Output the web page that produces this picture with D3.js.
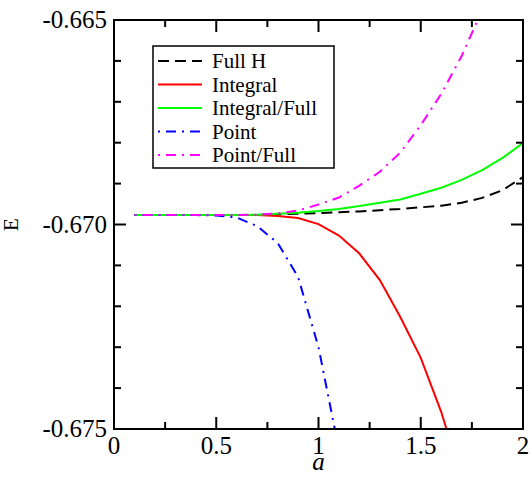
<!DOCTYPE html>
<html lang="en">
<head>
    <meta charset="UTF-8">
    <title>E vs a</title>
    <script src="https://d3js.org/d3.v7.min.js"></script>
    <style>
        body { margin: 0; background: #fff; }
    </style>
</head>
<body>
    <div id="chart"></div>
    <script>
        // values
        const aValues = [0.1, 0.2, 0.3, 0.4, 0.5, 0.6, 0.7, 0.8, 0.9, 1.0, 1.1, 1.2, 1.3, 1.4, 1.5, 1.6, 1.7, 1.8, 1.9, 2.0];
        const fullH = [-0.66977, -0.66977, -0.66977, -0.66977, -0.66977, -0.66977, -0.66977, -0.66975, -0.66974, -0.66972,
                       -0.66970, -0.66968, -0.66965, -0.66962, -0.66958, -0.66954, -0.66947, -0.66935, -0.66916, -0.66884];
        const integral = [-0.66977, -0.66977, -0.66977, -0.66977, -0.66977, -0.66977, -0.66977, -0.66979, -0.66984, -0.66999,
                          -0.67027, -0.67071, -0.67136, -0.67226, -0.67326, -0.67458, -0.67620, -0.67810, -0.68030, -0.68280];
        const integralFull = [-0.66977, -0.66977, -0.66977, -0.66977, -0.66977, -0.66977, -0.66976, -0.66974, -0.66971, -0.66967,
                              -0.66962, -0.66955, -0.66947, -0.66939, -0.66925, -0.66910, -0.66891, -0.66867, -0.66837, -0.66801];
        const point = [-0.66977, -0.66977, -0.66977, -0.66977, -0.66978, -0.66983, -0.67004, -0.67045, -0.67128, -0.67300,
                       -0.67551, -0.67900, -0.68350, -0.68900, -0.69550, -0.70300, -0.71150, -0.72100, -0.73150, -0.74300];
        const pointFull = [-0.66977, -0.66977, -0.66977, -0.66977, -0.66977, -0.66977, -0.66976, -0.66973, -0.66966, -0.66951,
                           -0.66934, -0.66905, -0.66871, -0.66824, -0.66757, -0.66681, -0.66588, -0.66476, -0.66340, -0.66180];

        const seriesNames = ["Full H", "Integral", "Integral/Full", "Point", "Point/Full"];
        const seriesColors = ["#000000", "#ff0000", "#00ff00", "#0000ff", "#ff00ff"];
        const seriesDash = ["11,6", null, null, "2,6,10,6", "2,6,10,6"];
        const seriesValues = [fullH, integral, integralFull, point, pointFull];

        const xMajor = [0, 0.5, 1, 1.5, 2];
        const xMinor = [0.25, 0.75, 1.25, 1.75];
        const yMajor = [-0.675, -0.670, -0.665];
        const yMinor = [-0.674, -0.673, -0.672, -0.671, -0.669, -0.668, -0.667, -0.666];

        const width = 530, height = 477;
        const margin = { left: 114, right: 7, top: 20, bottom: 48 };
        const innerW = width - margin.left - margin.right;
        const innerH = height - margin.top - margin.bottom;
        const serif = "'Liberation Serif', 'Times New Roman', Times, 'DejaVu Serif', serif";

        const svg = d3.select("#chart").append("svg")
            .attr("width", width)
            .attr("height", height)
            .style("font-family", serif);

        const x = d3.scaleLinear().domain([0, 2]).range([margin.left, margin.left + innerW]);
        const y = d3.scaleLinear().domain([-0.675, -0.665]).range([margin.top + innerH, margin.top]);

        svg.append("defs").append("clipPath").attr("id", "plotclip")
            .append("rect")
            .attr("x", margin.left).attr("y", margin.top)
            .attr("width", innerW).attr("height", innerH);

        // Curves
        const line = d3.line()
            .x(d => x(d[0]))
            .y(d => y(d[1]));

        const curves = svg.append("g").attr("clip-path", "url(#plotclip)");
        seriesValues.forEach((vals, i) => {
            curves.append("path")
                .datum(aValues.map((a, j) => [a, vals[j]]))
                .attr("fill", "none")
                .attr("stroke", seriesColors[i])
                .attr("stroke-width", 2)
                .attr("stroke-dasharray", seriesDash[i])
                .attr("d", line);
        });

        // Axes: ticks on all four sides, pointing inward
        const tickMajor = 12, tickMinor = 7;
        const axisG = svg.append("g").attr("stroke", "#000").attr("stroke-width", 2);

        function xTicks(vals, len) {
            vals.forEach(v => {
                axisG.append("line").attr("x1", x(v)).attr("x2", x(v))
                    .attr("y1", y(-0.675)).attr("y2", y(-0.675) - len);
                axisG.append("line").attr("x1", x(v)).attr("x2", x(v))
                    .attr("y1", y(-0.665)).attr("y2", y(-0.665) + len);
            });
        }
        function yTicks(vals, len) {
            vals.forEach(v => {
                axisG.append("line").attr("y1", y(v)).attr("y2", y(v))
                    .attr("x1", x(0)).attr("x2", x(0) + len);
                axisG.append("line").attr("y1", y(v)).attr("y2", y(v))
                    .attr("x1", x(2)).attr("x2", x(2) - len);
            });
        }
        xTicks(xMajor, tickMajor);
        xTicks(xMinor, tickMinor);
        yTicks(yMajor, tickMajor);
        yTicks(yMinor, tickMinor);

        axisG.append("rect")
            .attr("x", margin.left).attr("y", margin.top)
            .attr("width", innerW).attr("height", innerH)
            .attr("fill", "none");

        // Tick labels
        svg.append("g").selectAll("text")
            .data(xMajor)
            .enter()
            .append("text")
            .attr("x", d => x(d))
            .attr("y", y(-0.675) + 25)
            .attr("text-anchor", "middle")
            .style("font-family", serif)
            .attr("font-size", 25)
            .text(d => d3.format("")(d));

        svg.append("g").selectAll("text")
            .data(yMajor)
            .enter()
            .append("text")
            .attr("x", x(0) - 7)
            .attr("y", d => y(d) + 8)
            .attr("text-anchor", "end")
            .style("font-family", serif)
            .attr("font-size", 25)
            .text(d => d3.format(".3f")(d).replace("−", "-"));

        // Axis titles
        svg.append("text")
            .attr("x", x(1))
            .attr("y", 470)
            .attr("text-anchor", "middle")
            .style("font-family", serif)
            .attr("font-size", 25)
            .attr("font-style", "italic")
            .text("a");

        svg.append("text")
            .attr("transform", `translate(18,${y(-0.670)}) rotate(-90)`)
            .attr("text-anchor", "middle")
            .style("font-family", serif)
            .attr("font-size", 21)
            .text("E");

        // Legend
        const legend = svg.append("g");
        legend.append("rect")
            .attr("x", 153).attr("y", 46)
            .attr("width", 181).attr("height", 122)
            .attr("fill", "#fff")
            .attr("stroke", "#000")
            .attr("stroke-width", 1.5);

        seriesNames.forEach((name, i) => {
            const ly = 61 + i * 23.5;
            legend.append("line")
                .attr("x1", 158).attr("x2", 202)
                .attr("y1", ly).attr("y2", ly)
                .attr("stroke", seriesColors[i])
                .attr("stroke-width", 2)
                .attr("stroke-dasharray", seriesDash[i]);
            legend.append("text")
                .attr("x", 212)
                .attr("y", ly + 7)
                .style("font-family", serif)
                .attr("font-size", 21)
                .text(name);
        });
    </script>
</body>
</html>
